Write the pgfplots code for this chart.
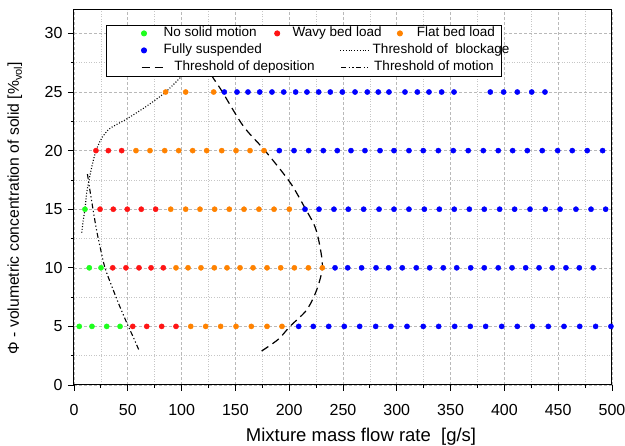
\documentclass[border=0pt]{standalone}
\usepackage{fontspec}
\setmainfont{Liberation Sans}
\usepackage{pgfplots}
\pgfplotsset{compat=1.18}
\definecolor{cgreen}{RGB}{30,255,30}
\definecolor{cred}{RGB}{255,20,20}
\definecolor{corange}{RGB}{255,130,0}
\definecolor{cblue}{RGB}{0,0,255}
\pgfplotsset{
  legmA/.style={legend image code/.code={\path (-35pt,0pt) (14.5pt,0pt); \draw[##1] plot coordinates {(0pt,0pt)};}},
  legmB/.style={legend image code/.code={\path (-15.5pt,0pt) (10.5pt,0pt); \draw[##1] plot coordinates {(0pt,0pt)};}},
  legmC/.style={legend image code/.code={\path (-13.5pt,0pt) (12pt,0pt); \draw[##1] plot coordinates {(0pt,0pt)};}},
  leglBlock/.style={legend image code/.code={\path (-15.5pt,0pt) (10.5pt,0pt); \draw[##1, overlay] (63pt,0pt) -- (92pt,0pt);}},
  leglDep/.style={legend image code/.code={\path (-35pt,0pt) (14.5pt,0pt); \draw[##1, overlay] (-2.3pt,0pt) -- (21pt,0pt);}},
  leglMot/.style={legend image code/.code={\path (-15.5pt,0pt) (10.5pt,0pt); \draw[##1, overlay] (64pt,0pt) -- (93pt,0pt);}},
  legEmpty/.style={legend image code/.code={}},
}
\begin{document}
\begin{tikzpicture}
\begin{axis}[
  at={(0,0)}, anchor=south west,
  scale only axis, width=538pt, height=375pt,
  xmin=0, xmax=500, ymin=0, ymax=32,
  xtick={0,50,...,500}, ytick={0,5,...,30},
  minor x tick num=1, minor y tick num=1,
  tick pos=left, tick align=outside,
  major tick length=6pt, minor tick length=3pt,
  tick style={black, line width=0.8pt},
  axis line style={line width=1pt},
  grid=both,
  major grid style={gray!55, dash pattern=on 3pt off 2pt, line width=0.6pt},
  minor grid style={gray!45, dash pattern=on 1pt off 1.5pt, line width=0.6pt},
  ticklabel style={font=\fontsize{16}{18}\selectfont},
  /pgf/number format/assume math mode=true,
  xticklabel style={yshift=-10pt},
  yticklabel style={xshift=-2pt},
  xlabel={Mixture mass flow rate\ \ [g/s]},
  ylabel={Φ - volumetric concentration of solid [\%\textsubscript{vol}]},
  xlabel style={font=\fontsize{18.5}{21}\selectfont, at={(axis description cs:0.5335,-0.137)}, anchor=center},
  ylabel style={font=\fontsize{15.7}{18}\selectfont, at={(axis description cs:-0.11,0.472)}, anchor=center},
  clip=false,
  legend columns=3,
  legend cell align=left,
  legend style={at={(axis description cs:0.0595,0.9613)}, anchor=north west,
    draw=black, line width=0.8pt, fill=white, inner xsep=2pt, inner ysep=0pt,
    font=\fontsize{13.5}{16}\selectfont,
    nodes={text height=10.5pt, text depth=3.5pt, inner ysep=1.5pt, inner xsep=4.5pt},
    column sep=0pt, row sep=0pt},
]
% --- data ---
\addplot[only marks, mark=*, mark size=2.6pt, color=cgreen, legmA]
coordinates {(4.9,5)(16.7,5)(30.4,5)(42.8,5)(14.2,10)(25.1,10)(10.2,15)};
\addlegendentry{No solid motion}
\addplot[only marks, mark=*, mark size=2.6pt, color=cred, legmB]
coordinates {(54.6,5)(67.6,5)(81.5,5)(94.8,5)
(36.0,10)(48.3,10)(60.4,10)(71.6,10)(83.0,10)
(24.2,15)(36.5,15)(49.5,15)(62.5,15)(75.9,15)
(20.4,20)(31.9,20)(44.3,20)};
\addlegendentry{Wavy bed load}
\addplot[only marks, mark=*, mark size=2.6pt, color=corange, legmC]
coordinates {(108.5,5)(122.4,5)(136.3,5)(150.6,5)(164.8,5)(179.4,5)(193.3,5)
(94.8,10)(106,10)(118,10)(130.4,10)(142.2,10)(154.3,10)(166.4,10)(179.4,10)(192.1,10)(204.8,10)(217.8,10)(230.8,10)
(89.9,15)(103.8,15)(117.1,15)(130.7,15)(144.3,15)(158,15)(171.9,15)(185.9,15)(200.1,15)
(57.6,20)(70.6,20)(84.3,20)(97.3,20)(110.3,20)(123.3,20)(137.3,20)(150.6,20)(163.6,20)(176.6,20)
(85.2,25)(103.8,25)(129.8,25)};
\addlegendentry{Flat bed load\hspace{22pt}}
\addplot[only marks, mark=*, mark size=2.6pt, color=cblue, legmA]
coordinates {(208.8,5)(222.4,5)(236.7,5)(251.2,5)(265.5,5)(280.4,5)(294.6,5)(309.5,5)(324.6,5)(338.9,5)(353.8,5)(368.3,5)(382.6,5)(397.5,5)(412,5)(426,5)(440.8,5)(455.4,5)(470,5)(484.8,5)(499,5)
(242.6,10)(254.4,10)(267.3,10)(280.7,10)(292.4,10)(305.1,10)(318.1,10)(330.6,10)(343.2,10)(355.7,10)(368.7,10)(381.3,10)(394.3,10)(407.1,10)(419.8,10)(432.2,10)(444.5,10)(457.2,10)(469.6,10)(482.6,10)
(214.7,15)(227.7,15)(241.6,15)(254.9,15)(269.2,15)(283.5,15)(297.4,15)(311.3,15)(325.6,15)(339.5,15)(353.4,15)(367.4,15)(381.3,15)(395.6,15)(409.5,15)(423.8,15)(438,15)(451.7,15)(466.5,15)(480.5,15)(494.1,15)
(190.8,20)(204.5,20)(218.1,20)(231.7,20)(244.7,20)(257.4,20)(270.4,20)(284.4,20)(297.4,20)(311.3,20)(324.6,20)(338.6,20)(352.5,20)(366.4,20)(380.4,20)(394.3,20)(407.7,20)(421.3,20)(435.2,20)(449.5,20)(463.1,20)(477,20)(491.3,20)
(139.7,25)(151.5,25)(161.7,25)(172.6,25)(184,25)(194.9,25)(206,25)(216.5,25)(227.4,25)(238.2,25)(249.4,25)(261.2,25)(272.6,25)(282.8,25)(292.7,25)(307.6,25)(319.1,25)(329.9,25)(341.7,25)(353.2,25)(386.9,25)(399.3,25)(412,25)(425.4,25)(437.7,25)};
\addlegendentry{\rlap{Fully suspended}}
% threshold of blockage
\addplot[black, line width=1.1pt, dash pattern=on 1pt off 1.8pt, smooth, tension=0.4, leglBlock]
coordinates {(7.2,13)(8.5,14)(10.2,15)(11.8,16.4)(14,17.5)(16.5,18.6)(20.4,20)(26,21.1)(33.5,21.9)(49,22.7)(67.6,23.8)(85.2,25)(101.6,26.5)(112,27.6)};
\addlegendentry{\rlap{\hspace{80pt}Threshold of\ \ blockage}}
\addlegendimage{legEmpty}
\addlegendentry{}
% threshold of deposition
\addplot[black, line width=1.2pt, dash pattern=on 8pt off 5pt, smooth, tension=0.5, leglDep]
coordinates {(174.4,2.9)(189.9,3.9)(200.7,5.0)(216.2,6.4)(225.5,8.1)(230.8,10.0)(228.6,11.8)(224,13.5)(214.7,15.1)(200.7,17.3)(177.5,20.0)(157.3,22.1)(137.3,25.1)(128,26.4)(120,27.8)};
\addlegendentry{\rlap{\hspace{10.7pt}Threshold of deposition}}
% threshold of motion
\addplot[black, line width=1.1pt, dash pattern=on 5pt off 2.5pt on 1.2pt off 2.5pt on 1.2pt off 2.5pt, smooth, tension=0.5, leglMot]
coordinates {(12.5,18)(15,16.5)(18,14.8)(21,13.2)(24.2,11.8)(28.8,10)(36.5,8.1)(43,6.6)(50.5,5.0)(55.5,4.0)(60.7,2.9)};
\addlegendentry{\rlap{\hspace{81.5pt}Threshold of motion}}
\addlegendimage{legEmpty}
\addlegendentry{}
\end{axis}
\pgfresetboundingbox
\path (-74pt,-61pt) rectangle (551pt,385pt);
\end{tikzpicture}
\end{document}
